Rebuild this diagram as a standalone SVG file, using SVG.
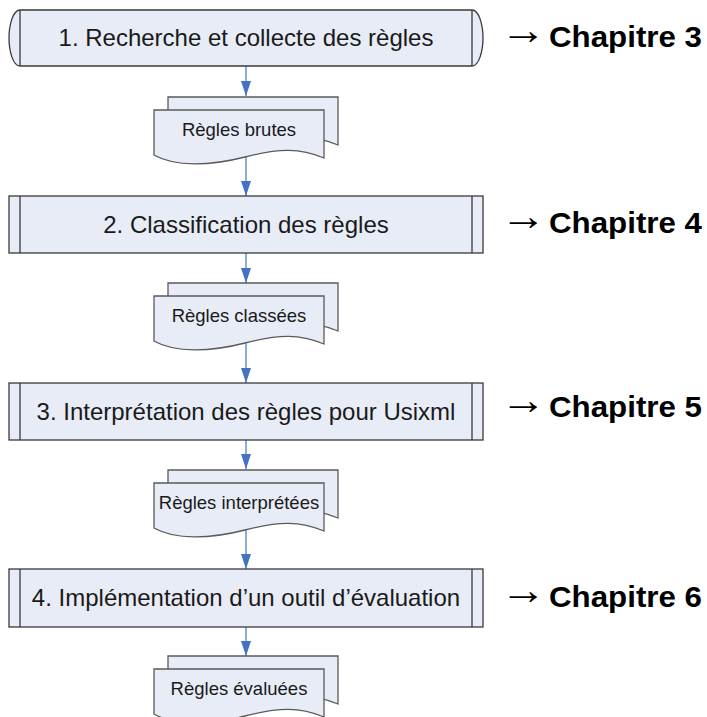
<svg xmlns="http://www.w3.org/2000/svg" xmlns:xlink="http://www.w3.org/1999/xlink" width="707" height="717" viewBox="0 0 707 717">
  <style>
    .shape { fill: #e8ecf6; stroke: #3a3a3a; stroke-width: 1.3; }
    .doc { fill: #e8ecf6; stroke: #5a5a5a; stroke-width: 1.3; }
    .inner { fill: none; stroke: #3a3a3a; stroke-width: 1.3; }
    .step { font-family: "Liberation Sans", Arial, sans-serif; font-size: 24px; fill: #1a1a1a; text-anchor: middle; }
    .label { font-family: "Liberation Sans", Arial, sans-serif; font-size: 18.5px; fill: #1a1a1a; text-anchor: middle; }
    .chap { font-family: "Liberation Sans", Arial, sans-serif; font-size: 30px; font-weight: bold; fill: #000; }
    .arr { font-family: "Liberation Sans", Arial, sans-serif; font-size: 42px; fill: #000; }
    .link { stroke: #5b8bd0; stroke-width: 1.4; fill: none; marker-end: url(#head); }
  </style>
  <defs>
    <marker id="head" markerWidth="15" markerHeight="10" refX="15" refY="5" orient="auto" markerUnits="userSpaceOnUse" viewBox="0 0 15 10">
      <path d="M0,0 L15,5 L0,10 Z" fill="#4472c4"/>
    </marker>
    <!-- two stacked sheets of a multi-document shape, front sheet top-left at (154,110) -->
    <g id="docs">
      <path class="doc" d="M168,97 H338 V145 C314,135 294,135 259,144 C224,153 189,154 168,142 Z"/>
      <path class="doc" d="M154,110 H324 V158 C300,148 280,148 245,157 C210,166 175,167 154,155 Z"/>
    </g>
  </defs>

  <!-- connectors -->
  <g id="connectors">
    <line class="link" x1="246" y1="66" x2="246" y2="96"/>
    <line class="link" x1="246" y1="157" x2="246" y2="196"/>
    <line class="link" x1="246" y1="253" x2="246" y2="283"/>
    <line class="link" x1="246" y1="343" x2="246" y2="383"/>
    <line class="link" x1="246" y1="440" x2="246" y2="469"/>
    <line class="link" x1="246" y1="530" x2="246" y2="569"/>
    <line class="link" x1="246" y1="627" x2="246" y2="656"/>
  </g>

  <!-- step 1: terminator with rounded ends -->
  <g id="step1">
    <path class="shape" d="M20,10 H472 C479,10 483,25 483,38 C483,51 479,66 472,66 H20 C13,66 9,51 9,38 C9,25 13,10 20,10 Z"/>
    <line class="inner" x1="20" y1="10" x2="20" y2="66"/>
    <line class="inner" x1="472" y1="10" x2="472" y2="66"/>
    <text class="step" x="246" y="46">1. Recherche et collecte des règles</text>
  </g>

  <g id="doc1">
    <use xlink:href="#docs"/>
    <text class="label" x="239" y="136">Règles brutes</text>
  </g>

  <!-- step 2: predefined process -->
  <g id="step2">
    <rect class="shape" x="9" y="196" width="474" height="57"/>
    <line class="inner" x1="20" y1="196" x2="20" y2="253"/>
    <line class="inner" x1="472" y1="196" x2="472" y2="253"/>
    <text class="step" x="246" y="233">2. Classification des règles</text>
  </g>

  <g id="doc2">
    <use xlink:href="#docs" transform="translate(0,186)"/>
    <text class="label" x="239" y="322">Règles classées</text>
  </g>

  <g id="step3">
    <rect class="shape" x="9" y="383" width="474" height="57"/>
    <line class="inner" x1="20" y1="383" x2="20" y2="440"/>
    <line class="inner" x1="472" y1="383" x2="472" y2="440"/>
    <text class="step" x="246" y="420">3. Interprétation des règles pour Usixml</text>
  </g>

  <g id="doc3">
    <use xlink:href="#docs" transform="translate(0,373)"/>
    <text class="label" x="239" y="509">Règles interprétées</text>
  </g>

  <g id="step4">
    <rect class="shape" x="9" y="569" width="474" height="58"/>
    <line class="inner" x1="20" y1="569" x2="20" y2="627"/>
    <line class="inner" x1="472" y1="569" x2="472" y2="627"/>
    <text class="step" x="246" y="606">4. Implémentation d’un outil d’évaluation</text>
  </g>

  <g id="doc4">
    <use xlink:href="#docs" transform="translate(0,559)"/>
    <text class="label" x="239" y="695">Règles évaluées</text>
  </g>

  <!-- chapter references -->
  <g id="chapters">
    <text class="arr" x="500" y="44" textLength="46" lengthAdjust="spacingAndGlyphs">→</text>
    <text class="chap" x="549" y="47" textLength="153" lengthAdjust="spacingAndGlyphs">Chapitre 3</text>
    <text class="arr" x="500" y="230" textLength="46" lengthAdjust="spacingAndGlyphs">→</text>
    <text class="chap" x="549" y="233" textLength="153" lengthAdjust="spacingAndGlyphs">Chapitre 4</text>
    <text class="arr" x="500" y="414" textLength="46" lengthAdjust="spacingAndGlyphs">→</text>
    <text class="chap" x="549" y="417" textLength="153" lengthAdjust="spacingAndGlyphs">Chapitre 5</text>
    <text class="arr" x="500" y="604" textLength="46" lengthAdjust="spacingAndGlyphs">→</text>
    <text class="chap" x="549" y="607" textLength="153" lengthAdjust="spacingAndGlyphs">Chapitre 6</text>
  </g>
</svg>
